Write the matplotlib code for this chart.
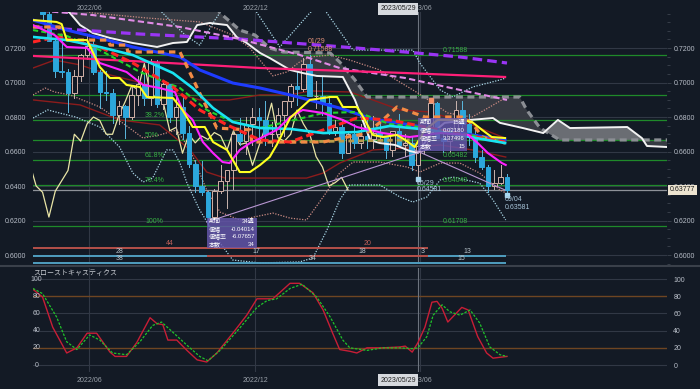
import numpy as np
import matplotlib
matplotlib.use('Agg')
import matplotlib.pyplot as plt
from matplotlib.patches import Rectangle
from matplotlib.lines import Line2D
import matplotlib.transforms as mtransforms

plt.rcParams['font.family'] = ['Liberation Sans', 'Noto Sans CJK JP', 'DejaVu Sans']

BG = '#131a25'
GRID = '#313845'
TXT = '#b8bec8'

# ---------------- weekly candles (week index 0 = 2023/05/29) ----------------
weeks = list(range(-60, 15))
opens = [.7520, .7480, .7400, .7240, .7066, .7062, .6940, .7040, .7160, .7210,
         .7060, .6946, .6940, .6812, .6862, .6800, .6930, .6990, .6910, .7120,
         .6878, .6990, .6800, .6860, .6710, .6528, .6400, .6364, .6220, .6370,
         .6430, .6490, .6700, .6660, .6760, .6800, .6780, .6700, .6700, .6810,
         .6890, .6980, .6960, .7110, .6920, .6920, .6880, .6720, .6740, .6590,
         .6700, .6650, .6690, .6670, .6710, .6690, .6610, .6720, .6640, .6650,
         .6520, .6630, .6740, .6880, .6680, .6660, .6700, .6840, .6760, .6700,
         .6570, .6510, .6400, .6420, .6450]
highs = [.7661, .7540, .7458, .7250, .7266, .7080, .7075, .7165, .7283, .7250,
         .7070, .7069, .6965, .6895, .6870, .6975, .7040, .7048, .7137, .7130,
         .7010, .6990, .6915, .6916, .6750, .6550, .6547, .6370, .6380, .6522,
         .6480, .6720, .6797, .6800, .6850, .6850, .6893, .6770, .6850, .6890,
         .6990, .7060, .7140, .7158, .7010, .7030, .6920, .6780, .6780, .6715,
         .6760, .6760, .6795, .6805, .6770, .6690, .6710, .6818, .6700, .6690,
         .6640, .6750, .6900, .6885, .6720, .6740, .6895, .6895, .6820, .6740,
         .6610, .6520, .6490, .6520, .6470]
lows = [.7455, .7370, .7238, .7030, .7030, .6829, .6910, .7010, .7135, .7050,
        .6850, .6900, .6764, .6762, .6681, .6790, .6870, .6870, .6870, .6860,
        .6845, .6770, .6700, .6670, .6512, .6363, .6350, .6170, .6200, .6360,
        .6272, .6385, .6640, .6585, .6640, .6670, .6640, .6630, .6710, .6690,
        .6860, .6870, .6950, .6920, .6855, .6810, .6700, .6695, .6565, .6590,
        .6620, .6620, .6620, .6620, .6660, .6565, .6575, .6635, .6575, .6490,
        .6458, .6590, .6730, .6680, .6600, .6600, .6680, .6740, .6640, .6540,
        .6500, .6365, .6380, .6410, .6358]
closes = [.7480, .7400, .7242, .7066, .7062, .6940, .7040, .7160, .7210, .7060,
          .6946, .6940, .6812, .6862, .6800, .6930, .6990, .6910, .7120, .6878,
          .6990, .6800, .6860, .6710, .6528, .6400, .6364, .6220, .6370, .6430,
          .6490, .6700, .6660, .6760, .6800, .6780, .6700, .6700, .6810, .6890,
          .6980, .6960, .7110, .6920, .6920, .6880, .6720, .6740, .6590, .6700,
          .6650, .6690, .6670, .6710, .6690, .6610, .6720, .6640, .6650, .6520,
          .6630, .6740, .6880, .6680, .6660, .6700, .6840, .6760, .6700, .6570,
          .6510, .6400, .6420, .6450, .6378]
chikou_shift = 25

# ---------------- indicator lines: (week, price) ----------------
spanA_w = [-57.5, -54.7, -53.1, -51.1, -48.4, -44.8, -41.0, -38.5, -36.3, -34.7, -32.7, -30.0, -28.5,
           -26.9, -24.8, -23.3, -20.1, -18.1, -15.9, -11.8, -9.9, -7.5, -6.0, -3.6, -1.3, 0.0,
           1.9, 4.2, 8.2, 11.8, 12.9, 16.5, 19.7, 22.0, 23.9, 32.9, 35.2, 36.0, 39.2]
spanA_p = [0.7480, 0.7403, 0.7333, 0.7287, 0.7258, 0.7229, 0.7206, 0.7229, 0.7235, 0.7333, 0.7345,
           0.7333, 0.7264, 0.7229, 0.7171, 0.7142, 0.7073, 0.7055, 0.7038, 0.7032, 0.6899, 0.6667,
           0.6649, 0.6638, 0.6603, 0.6592, 0.6696, 0.6766, 0.6783, 0.6794, 0.6766, 0.6736, 0.6707,
           0.6783, 0.6736, 0.6742, 0.6678, 0.6632, 0.6626]
spanB_w = [-61.0, -31.9, -31.1, -28.0, -25.6, -23.3, -21.2, -13.8, -12.3, -9.9, -8.0, 16.0, 17.1,
           19.2, 22.3, 39.2]
spanB_p = [0.7600, 0.7449, 0.7403, 0.7304, 0.7275, 0.7200, 0.7177, 0.7171, 0.7119, 0.7015, 0.6916,
           0.6916, 0.6841, 0.6736, 0.6667, 0.6667]

purple_w = [-60.5, -43.7, -28.0, -13.8, -2.0, 6.6, 14.0]
purple_p = [0.7322, 0.7281, 0.7252, 0.7212, 0.7177, 0.7148, 0.7113]

plum_w = [-60.5, -51.1, -37.4, -28.0, -18.6, -12.3, -2.0, 6.6, 14.0]
plum_p = [0.7420, 0.7391, 0.7322, 0.7252, 0.7160, 0.7084, 0.7026, 0.6957, 0.6899]

rose_w = [-60.5, -42.1, -24.8, -2.0, 13.7]
rose_p = [0.7154, 0.7119, 0.7084, 0.7055, 0.7032]

blue_w = [-60.5, -55.2, -50.0, -44.8, -37.4, -34.3, -29.1, -24.8, -20.1, -12.3, -7.1, -1.3, 8.5, 13.7]
blue_p = [0.7362, 0.7304, 0.7258, 0.7206, 0.7148, 0.7073, 0.6997, 0.6968, 0.6928, 0.6852, 0.6788,
          0.6754, 0.6696, 0.6667]

cyan_w = [-60.5, -55.2, -50.0, -44.8, -38.5, -35.4, -32.2, -29.1, -24.8, -20.1, -14.9, -9.6, -4.4,
          1.9, 8.2, 13.7]
cyan_p = [0.7264, 0.7246, 0.7206, 0.7159, 0.7055, 0.6968, 0.6852, 0.6771, 0.6736, 0.6731, 0.6707,
          0.6713, 0.6748, 0.6725, 0.6684, 0.6649]

green_w = [-60.5, -55.2, -50.0, -43.7, -37.4, -33.2, -29.1, -24.8, -20.1, -14.9, -9.6, -4.4, 1.9,
           8.2, 13.7]
green_p = [0.7304, 0.7270, 0.7188, 0.7061, 0.6968, 0.6841, 0.6771, 0.6736, 0.6777, 0.6823, 0.6829,
           0.6759, 0.6736, 0.6696, 0.6655]

red_w = [-60.5, -56.8, -50.0, -44.8, -38.5, -34.3, -30.0, -24.8, -20.1, -14.9, -9.6, -4.4, 1.9,
         8.2, 13.7]
red_p = [0.7235, 0.7264, 0.7206, 0.7113, 0.6974, 0.6841, 0.6754, 0.6667, 0.6655, 0.6725, 0.6794,
         0.6783, 0.6736, 0.6690, 0.6655]

orange_w = [-60.5, -56.3, -56.0, -48.7, -48.4, -45.8, -45.6, -37.4, -34.3, -31.6, -26.4, -26.1,
            -14.9, -8.0, -5.5, -3.3, -2.0, 1.1, 6.9, 8.5, 10.1, 13.7]
orange_p = [0.7322, 0.7322, 0.7246, 0.7246, 0.7217, 0.7217, 0.7177, 0.7177, 0.6939, 0.6736, 0.6725,
            0.6655, 0.6655, 0.6707, 0.6783, 0.6858, 0.6841, 0.6800, 0.6800, 0.6766, 0.6684, 0.6649]

khaki_w = [-20.1, -1.3]
khaki_p = [0.6655, 0.6667]

yellow_w = [-60.5, -56.8, -56.0, -55.2, -52.0, -50.0, -48.4, -46.9, -45.8, -43.7, -42.6, -38.5,
            -37.0, -35.4, -33.5, -32.2, -30.0, -28.0, -26.4, -24.8, -23.3, -22.2, -20.1, -17.0,
            -13.8, -12.7, -11.8, -9.6, -8.6, -7.1, -5.5, -3.3, -2.0, -0.5, 1.1, 3.1, 6.9, 8.5,
            10.1, 11.6, 13.7]
yellow_p = [0.7362, 0.7351, 0.7339, 0.7246, 0.7246, 0.7090, 0.7026, 0.7026, 0.6986, 0.6974, 0.6916,
            0.6910, 0.6841, 0.6742, 0.6742, 0.6655, 0.6609, 0.6481, 0.6481, 0.6522, 0.6568, 0.6638,
            0.6794, 0.6899, 0.6916, 0.6916, 0.6858, 0.6858, 0.6800, 0.6696, 0.6684, 0.6696, 0.6667,
            0.6626, 0.6725, 0.6783, 0.6783, 0.6771, 0.6725, 0.6684, 0.6678]

magenta_w = [-60.5, -57.1, -55.2, -52.0, -50.0, -45.8, -43.2, -40.6, -38.2, -37.0, -35.4, -33.8,
             -32.2, -30.7, -29.6, -28.0, -26.4, -24.4, -22.2, -20.1, -18.1, -14.9, -11.8, -9.6,
             -5.5, -1.3, 3.5, 7.9, 9.4, 11.0, 13.2, 13.8]
magenta_p = [0.7333, 0.7275, 0.7206, 0.7200, 0.7113, 0.7061, 0.6986, 0.6968, 0.6945, 0.6841, 0.6783,
             0.6655, 0.6591, 0.6539, 0.6533, 0.6609, 0.6649, 0.6684, 0.6725, 0.6800, 0.6841, 0.6823,
             0.6783, 0.6742, 0.6707, 0.6684, 0.6707, 0.6696, 0.6649, 0.6591, 0.6533, 0.6522]

bb3_up_w = [-40.6, -36.6, -34.3, -31.9, -30.3, -25.9, -21.7, -17.0, -15.4, -14.3, -10.2, -0.8, 0.3,
            3.5, 5.5, 8.6, 12.9, 13.8]
bb3_up_p = [0.7420, 0.7276, 0.7217, 0.7362, 0.7449, 0.7438, 0.7206, 0.7403, 0.7449, 0.7403, 0.7188,
            0.7188, 0.7113, 0.6957, 0.6916, 0.6974, 0.7015, 0.7026]
bb3_lo_w = [-60.5, -58.2, -56.3, -53.8, -50.0, -46.9, -44.8, -43.2, -41.7, -39.5, -38.5, -37.4,
            -36.3, -34.3, -31.1, -29.1, -24.8, -18.6, -16.5, -14.3, -12.3, -10.7, -6.0, -2.8, -0.8,
            1.4, 3.5, 5.5, 9.7, 11.8, 13.8]
bb3_lo_p = [0.6794, 0.6841, 0.6823, 0.6800, 0.6742, 0.6626, 0.6475, 0.6423, 0.6446, 0.6609, 0.6609,
            0.6533, 0.6417, 0.6261, 0.6070, 0.5971, 0.5954, 0.5960, 0.5983, 0.6145, 0.6319, 0.6406,
            0.6406, 0.6336, 0.6307, 0.6336, 0.6435, 0.6452, 0.6417, 0.6319, 0.6203]
bb2_up_w = [-56.3, -51.1, -42.6, -34.3, -29.1, -26.4, -22.8, -20.6, -18.6, -17.0, -13.8, -10.7,
            -6.0, 0.0, 4.7, 8.5, 10.5, 13.7]
bb2_up_p = [0.7449, 0.7403, 0.7374, 0.7351, 0.7275, 0.7200, 0.7038, 0.7061, 0.7119, 0.7148, 0.7159,
            0.7130, 0.7073, 0.6939, 0.6823, 0.6800, 0.6841, 0.6910]
bb2_lo_w = [-60.5, -58.6, -57.1, -54.7, -50.0, -46.4, -43.2, -40.6, -37.9, -35.8, -33.2, -31.1,
            -28.0, -22.8, -20.1, -17.5, -14.9, -12.3, -10.2, -6.0, -1.7, 0.3, 3.5, 6.6, 9.7, 12.9,
            13.8]
bb2_lo_p = [0.6928, 0.6968, 0.6945, 0.6928, 0.6858, 0.6765, 0.6678, 0.6696, 0.6725, 0.6609, 0.6377,
            0.6249, 0.6203, 0.6243, 0.6214, 0.6203, 0.6336, 0.6475, 0.6539, 0.6539, 0.6510, 0.6481,
            0.6533, 0.6533, 0.6475, 0.6377, 0.6360]
bb1_mid_w = [-60.5, -57.1, -53.1, -48.4, -42.1, -34.3, -29.6, -24.8, -20.1, -17.0, -10.7, -7.1,
             -2.8, 1.9, 8.5, 13.7]
bb1_mid_p = [0.7084, 0.7130, 0.7102, 0.7044, 0.6986, 0.6899, 0.6899, 0.6928, 0.6928, 0.6951, 0.6945,
             0.6899, 0.6841, 0.6829, 0.6754, 0.6678]
bb1_lo_w = [-60.5, -53.1, -46.9, -40.6, -35.8, -33.2, -30.3, -17.5, -14.9, -12.3, -7.1, -1.7, 3.5,
            8.6, 13.8]
bb1_lo_p = [0.6899, 0.6870, 0.6783, 0.6754, 0.6609, 0.6481, 0.6446, 0.6446, 0.6475, 0.6533, 0.6609,
            0.6620, 0.6638, 0.6609, 0.6568]

trend1_w = [-33.2, 1.4]
trend1_p = [0.6191, 0.6609]
trend2_w = [-0.5, 13.7]
trend2_p = [0.6609, 0.6377]

fib_levels = [0.71588, 0.69256, 0.67814, 0.66648, 0.65482, 0.64040, 0.61708]
fib_left = {0.67814: '38.2%', 0.66648: '50%', 0.65482: '61.8%', 0.64040: '76.4%', 0.61708: '100%'}
fib_right = {0.71588: '0.71588', 0.65482: '0.65482', 0.64040: '0.64040', 0.61708: '0.61708'}
last_price = 0.63777

# cycle count rows: (start week, end week, label, color)
row1 = [(-60.5, -17.5, '44', 'r'), (-17.5, 1.6, '20', 'r')]
row2 = [(-60.5, -33.2, '28', 'b'), (-33.2, -17.5, '17', 'r'), (-17.5, 0.0, '18', 'r'),
        (0.0, 1.6, '3', 'r'), (1.6, 13.8, '13', 'b')]
row3 = [(-60.5, -33.2, '38', 'b'), (-33.2, 0.0, '34', 'b'), (0.0, 13.8, '15', 'b')]
row_prices = [0.60406, 0.59943, 0.59537]

box1_labels = ['期間', '値幅', '値幅率', '本数']
box1_values = ['34週', '-0.04014', '-6.07657', '34']
box2_values = ['15週', '0.02180', '3.37496', '15']

# stochastics
stk_w = [-60.5, -59.0, -57.4, -55.2, -53.6, -52.0, -50.5, -48.4, -47.6, -45.8, -44.2, -42.1, -41.0,
         -40.1, -39.3, -37.9, -36.3, -34.7, -33.2, -31.6, -29.1, -26.9, -25.3, -22.8, -20.1, -18.6,
         -16.5, -14.9, -13.4, -12.3, -10.7, -9.6, -8.0, -5.5, -2.8, -2.0, -0.9, 0, 1.1, 2.2, 3.0,
         3.8, 4.7, 6.9, 7.9, 9.4, 10.8, 11.8, 14.0]
stk_v = [88, 79, 44, 14, 20, 37, 37, 15, 10, 10, 26, 55, 48, 47, 29, 29, 17, 6, 3.5, 14, 37, 58,
         77, 77, 95, 95, 84, 64, 37, 18, 16, 14, 20, 20, 21, 22, 15, 26, 44, 73, 74, 66, 50, 67,
         64, 33, 14, 8, 10]
std_w = [-60.5, -59.0, -56.8, -55.2, -53.6, -51.6, -50.0, -48.0, -45.8, -43.7, -41.7, -40.3, -38.5,
         -36.3, -34.3, -33.0, -31.1, -28.0, -25.3, -23.7, -22.2, -20.1, -18.2, -15.9, -13.8, -11.8,
         -10.7, -8.0, -5.5, -2.8, -0.9, 0, 1.4, 2.4, 3.8, 5.0, 6.6, 8.2, 9.7, 11.3, 12.9, 14.0]
std_v = [89, 83, 56, 27, 18, 35, 29, 14, 12, 27, 46, 50, 38, 23, 10, 5, 17, 43, 67, 75, 77, 89, 94,
         79, 56, 29, 20, 17, 20, 20, 19, 20, 33, 58, 70, 62, 58, 64, 49, 21, 12, 10]

month_ticks_w = [-51.7, -25.6, 0.3]
month_ticks_lab = ['2022/06', '2022/12', '2023/06']

# ---------------- figure ----------------
W, H = 700, 389
fig = plt.figure(figsize=(7, 3.89), dpi=100, facecolor=BG)
XL = (-60.5, 39.15)
ax = fig.add_axes([33 / W, 1 - 264 / H, 634 / W, 252 / H], facecolor=BG)
ax2 = fig.add_axes([33 / W, 1 - 372 / H, 634 / W, 104 / H], facecolor=BG)
for a in (ax, ax2):
    a.set_xlim(*XL)
    for s in a.spines.values():
        s.set_visible(False)
    a.set_xticks([])
ax.set_ylim(0.59479, 0.74087)
ax2.set_ylim(-8.1, 112.8)

# grids
for y in np.arange(0.60, 0.7201, 0.02):
    ax.axhline(y, color=GRID, lw=0.8, zorder=0)
for xw in month_ticks_w:
    ax.axvline(xw, color=GRID, lw=0.8, zorder=0)
    ax2.axvline(xw, color=GRID, lw=0.8, zorder=0)
for a in (ax, ax2):
    a.axvline(0, color='#6c737e', lw=0.8, zorder=1)

# cloud
xx = np.linspace(XL[0], XL[1], 800)
A = np.interp(xx, spanA_w, spanA_p)
B = np.interp(xx, spanB_w, spanB_p)
ax.fill_between(xx, A, B, where=B >= A, color='#363a42', lw=0, zorder=1, interpolate=True)
ax.fill_between(xx, A, B, where=A > B, color='#6a6d73', lw=0, zorder=1, interpolate=True)

# fib lines
for lv in fib_levels:
    ax.axhline(lv, color='#1f8a2a', lw=0.9, zorder=1.5)
    if lv in fib_left:
        ax.text(-42.9, lv + 0.0006, fib_left[lv], color='#37b043', fontsize=5, va='bottom', zorder=6)
    if lv in fib_right:
        ax.text(3.9, lv + 0.0006, fib_right[lv], color='#37b043', fontsize=5, va='bottom', zorder=6)
ax.axhline(last_price, color='#8e9299', lw=0.9, zorder=1.5)

# bands
ax.plot(bb3_up_w, bb3_up_p, color='#a9d6e6', lw=0.9, ls=(0, (1, 1.2)), zorder=2)
ax.plot(bb3_lo_w, bb3_lo_p, color='#a9d6e6', lw=0.9, ls=(0, (1, 1.2)), zorder=2)
ax.plot(bb2_up_w, bb2_up_p, color='#c98a82', lw=0.9, ls=(0, (1, 1.2)), zorder=2)
ax.plot(bb2_lo_w, bb2_lo_p, color='#c98a82', lw=0.9, ls=(0, (1, 1.2)), zorder=2)
ax.plot(bb1_mid_w, bb1_mid_p, color='#8c1c1c', lw=1.0, zorder=2)
ax.plot(bb1_lo_w, bb1_lo_p, color='#8c1c1c', lw=1.0, zorder=2)

# chikou span
cw = [w - chikou_shift for w in weeks]
ax.plot(cw, closes, color='#e9e5a6', lw=0.9, zorder=2.5)

# candles
cw_half = 0.36
for w, o, h, l, c in zip(weeks, opens, highs, lows, closes):
    up = c >= o
    col = '#d3b2a8' if up else '#2ca7dc'
    ax.plot([w, w], [l, h], color='#c9b4ae' if up else '#5cb8de', lw=0.7, zorder=3)
    bot, top = min(o, c), max(o, c)
    ax.add_patch(Rectangle((w - cw_half, bot), 2 * cw_half, max(top - bot, 0.0003),
                           facecolor=BG if up else col, edgecolor=col, lw=0.7, zorder=3.2))

# lines
ax.plot(spanB_w, spanB_p, color='#8b8e94', lw=2.3, ls=(0, (2.2, 1.4)), zorder=3.5)
ax.plot(spanA_w, spanA_p, color='#f2f2f2', lw=1.4, zorder=3.6)
ax.plot(purple_w, purple_p, color='#9a35f5', lw=2.3, ls=(0, (3, 1.6)), zorder=4)
ax.plot(plum_w, plum_p, color='#e18be6', lw=1.5, ls=(0, (3, 1.6)), zorder=4)
ax.plot(rose_w, rose_p, color='#ff1f78', lw=1.6, zorder=4)
ax.plot(blue_w, blue_p, color='#1e3cff', lw=2.2, zorder=4)
ax.plot(khaki_w, khaki_p, color='#b89a4a', lw=2.0, ls=(0, (2, 1.5)), zorder=4)
ax.plot(orange_w, orange_p, color='#f28a45', lw=2.3, ls=(0, (2, 1.5)), zorder=4.1)
ax.plot(green_w, green_p, color='#22d32a', lw=1.5, ls=(0, (2.5, 1.5)), zorder=4.2)
ax.plot(red_w, red_p, color='#ff2424', lw=2.2, ls=(0, (2.5, 1.3)), zorder=4.2)
ax.plot(cyan_w, cyan_p, color='#19e3f2', lw=1.9, zorder=4.3)
ax.plot(magenta_w, magenta_p, color='#ff22ff', lw=1.5, zorder=4.4)
ax.plot(yellow_w, yellow_p, color='#ffff22', lw=1.5, zorder=4.5)
ax.plot(trend1_w, trend1_p, color='#b896d2', lw=0.8, zorder=4.6)
ax.plot(trend2_w, trend2_p, color='#b896d2', lw=0.8, zorder=4.6)

# markers / labels
ax.plot([2], [0.6900], marker='s', ms=2.2, color='#f0906a', zorder=6)
ax.plot([0], [0.6440], marker='s', ms=2.2, color='#a8d8f0', zorder=6)
ax.plot([14], [0.6350], marker='s', ms=2.2, color='#a8d8f0', zorder=6)
ax.text(-17.3, 0.7235, '01/29', color='#e0907a', fontsize=5, va='center', zorder=6)
ax.text(-17.3, 0.7194, '0.71588', color='#e0907a', fontsize=5, va='center', zorder=6)
ax.text(-0.15, 0.6417, '05/29', color='#a8c4d8', fontsize=5, va='center', zorder=6)
ax.text(-0.15, 0.6377, '0.64581', color='#a8c4d8', fontsize=5, va='center', zorder=6)
ax.text(13.7, 0.6319, '09/04', color='#a8c4d8', fontsize=5, va='center', zorder=6)
ax.text(13.7, 0.6277, '0.63581', color='#a8c4d8', fontsize=5, va='center', zorder=6)

# info boxes
def info_box(x0, x1, ytop, ybot, values):
    ax.add_patch(Rectangle((x0, ybot), x1 - x0, ytop - ybot, facecolor='#6656ad', alpha=0.82,
                           edgecolor='none', zorder=7))
    ys = np.linspace(ytop, ybot, 5)
    for i, (lab, val) in enumerate(zip(box1_labels, values)):
        yy = (ys[i] + ys[i + 1]) / 2
        ax.text(x0 + 0.3, yy, lab, color='white', fontsize=4.3, va='center', zorder=8)
        ax.text(x1 - 0.3, yy, val, color='white', fontsize=4.3, va='center', ha='right', zorder=8)

info_box(-33.2, -25.3, 0.6215, 0.6041, box1_values)
info_box(0.0, 7.7, 0.6794, 0.6603, box2_values)

# cycle rows
colmap = {'r': '#b5504a', 'b': '#4f9ec0'}
for rp, row, tcol in zip(row_prices, (row1, row2, row3), ('#c0605a', '#b8c4cc', '#b8c4cc')):
    for x0, x1, lab, c in row:
        ax.plot([x0, x1], [rp, rp], color=colmap[c], lw=1.4, zorder=5, solid_capstyle='butt')
        ax.text((x0 + x1) / 2, rp + 0.0006, lab, color=tcol, fontsize=5, ha='center',
                va='bottom', zorder=6)

# y axes main
ax.set_yticks(np.arange(0.60, 0.7201, 0.02))
ax.set_yticks(np.arange(0.595, 0.7401, 0.005), minor=True)
ax.yaxis.set_major_formatter(matplotlib.ticker.FormatStrFormatter('%.4f'))
ax.tick_params(axis='y', which='both', left=False, right=True, labelleft=True, labelright=True,
               labelsize=5, colors='#3c434e', labelcolor=TXT, length=3, width=0.6, pad=2)
ax.tick_params(axis='y', which='minor', length=2)
ax.text(1.004, last_price, '0.63777', transform=ax.get_yaxis_transform(), fontsize=5,
        color='#1a1a1a', va='center', ha='left', zorder=10,
        bbox=dict(boxstyle='square,pad=0.25', facecolor='#ece3cf', edgecolor='none'))

# stochastics
for v in (0, 40, 60, 100):
    ax2.axhline(v, color=GRID, lw=0.8, zorder=0)
for v in (20, 80):
    ax2.axhline(v, color='#6e4522', lw=1.0, zorder=0)
ax2.plot(stk_w, stk_v, color='#c81e36', lw=1.0, zorder=3)
ax2.plot(std_w, std_v, color='#1fc42a', lw=0.9, ls=(0, (2, 1.2)), zorder=3)
ax2.set_yticks([0, 20, 40, 60, 80, 100])
ax2.tick_params(axis='y', left=False, right=False, labelleft=False, labelright=True,
                labelsize=5, labelcolor=TXT, pad=1)
trans = mtransforms.blended_transform_factory(ax2.transAxes, ax2.transData)
for v in (0, 20, 40, 60, 80, 100):
    ax2.text(0.0055, v, str(v), transform=trans, fontsize=5, color=TXT, ha='center', va='center')
fig.text(33 / W, 1 - 273 / H, 'スローストキャスティクス', fontsize=5, color='#c8ccd2', va='center')

# separator
fig.add_artist(Line2D([0, 1], [1 - 265.5 / H, 1 - 265.5 / H], color='#3a404a', lw=1.5))

# date labels top/bottom
for yy in (1 - 9 / H, 1 - 380 / H):
    for xw, lab in zip(month_ticks_w, month_ticks_lab):
        xp = 418 + 6.36 * xw
        fig.text(xp / W, yy, lab, fontsize=5, color='#9aa1aa', ha='center', va='center')
    fig.text(398 / W, yy, '2023/05/29', fontsize=5, color='#222222', ha='center', va='center',
             bbox=dict(boxstyle='square,pad=0.3', facecolor='#d6d9de', edgecolor='none'))

fig.savefig('out.png', dpi=100, facecolor=BG)
